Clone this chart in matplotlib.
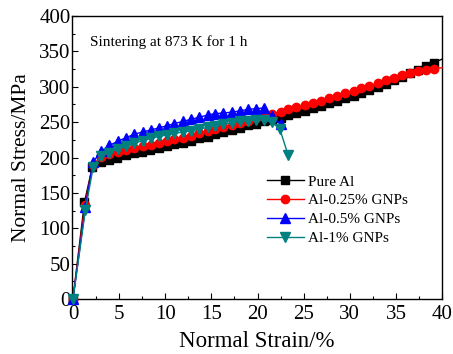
#!/usr/bin/env python3
"""Normal stress vs normal strain for sintered Al / Al-GNP composites."""

import matplotlib

matplotlib.use("Agg")
import matplotlib.pyplot as plt
from matplotlib.ticker import MultipleLocator

plt.rcParams["font.family"] = ["Liberation Serif", "DejaVu Serif"]
plt.rcParams["mathtext.fontset"] = "stix"

# strain (%) / stress (MPa)
strain_pure = [0, 1.25, 2.1, 3.0, 3.9, 4.8, 5.7, 6.6, 7.5, 8.4, 9.3, 10.2, 11.0, 11.9,
               12.8, 13.7, 14.6, 15.4, 16.3, 17.2, 18.1, 19.0, 19.8, 20.7, 21.6, 22.5,
               23.3, 24.2, 25.1, 26.0, 26.9, 27.7, 28.6, 29.5, 30.4, 31.2, 32.1, 33.0,
               33.9, 34.8, 35.6, 36.5, 37.4, 38.3, 39.1, 40.0]
stress_pure = [0, 137, 187, 194, 197, 200, 203, 206, 208, 211, 213, 216, 219, 221,
               223, 227, 229, 233, 236, 239, 242, 246, 248, 251, 253, 256,
               260, 263, 266, 270, 273, 277, 280, 284, 287, 291, 296, 300,
               304, 309, 314, 319, 324, 329, 334, 339]

strain_025 = [0, 1.3, 2.15, 3.05, 3.95, 4.85, 5.75, 6.65, 7.55, 8.45, 9.35, 10.2, 11.0,
              11.9, 12.8, 13.7, 14.6, 15.4, 16.3, 17.2, 18.1, 19.0, 19.8, 20.7, 21.6,
              22.5, 23.3, 24.2, 25.1, 26.0, 26.9, 27.7, 28.6, 29.5, 30.4, 31.2, 32.1,
              33.0, 33.9, 34.8, 35.6, 36.5, 37.4, 38.3, 39.1, 40.0]
stress_025 = [0, 133, 190, 201, 205, 208, 211, 214, 216, 218, 221, 223, 226,
              228, 231, 234, 237, 240, 243, 246, 249, 252, 256, 259, 261,
              265, 268, 271, 274, 277, 280, 284, 287, 291, 294, 298, 301,
              305, 309, 312, 316, 319, 322, 324, 325, 327]

strain_05 = [0, 1.35, 2.15, 3.05, 3.95, 4.85, 5.75, 6.65, 7.55, 8.45, 9.35, 10.2, 11.0,
             11.9, 12.8, 13.7, 14.6, 15.4, 16.3, 17.2, 18.1, 19.0, 19.8, 20.7, 21.6, 22.5]
stress_05 = [0, 130, 193, 209, 217, 223, 228, 233, 236, 239, 242, 245, 248,
             251, 254, 257, 260, 262, 263, 264, 266, 268, 269, 270, 258, 247]

strain_1 = [0, 1.35, 2.2, 3.05, 3.95, 4.85, 5.75, 6.65, 7.55, 8.45, 9.35, 10.2, 11.0,
            11.9, 12.8, 13.7, 14.6, 15.4, 16.3, 17.2, 18.1, 19.0, 19.8, 20.7, 21.6,
            22.4, 23.3]
stress_1 = [0, 126, 187, 202, 207, 212, 216, 220, 224, 227, 230, 232, 234,
            236, 238, 240, 243, 245, 247, 249, 251, 252, 253, 253, 250,
            241, 204]

fig = plt.figure(figsize=(4.53, 3.54), dpi=100)
ax = fig.add_axes([0.159, 0.155, 0.817, 0.8])

ax.plot(strain_pure, stress_pure, "-s", color="black", lw=1.0, ms=5.5,
        markevery=slice(0, -1), clip_on=False, label="Pure Al", zorder=3)
ax.plot(strain_025, stress_025, "-o", color="#ff0000", lw=1.0, ms=6,
        markevery=slice(0, -1), clip_on=False, label="Al-0.25% GNPs", zorder=3)
ax.plot(strain_05, stress_05, "-^", color="#0000ff", lw=1.0, ms=6.5,
        clip_on=False, label="Al-0.5% GNPs", zorder=3)
ax.plot(strain_1, stress_1, "-v", color="#008080", lw=1.0, ms=6.5,
        clip_on=False, label="Al-1% GNPs", zorder=3)

ax.set_xlim(-0.1, 40)
ax.set_ylim(0, 400)
ax.xaxis.set_major_locator(MultipleLocator(5))
ax.xaxis.set_minor_locator(MultipleLocator(2.5))
ax.yaxis.set_major_locator(MultipleLocator(50))
ax.yaxis.set_minor_locator(MultipleLocator(25))
ax.tick_params(which="both", direction="in", top=False, right=False, labelsize=15)
ax.tick_params(which="major", length=4, width=0.8)
ax.tick_params(axis="x", which="major", pad=4)
ax.tick_params(axis="y", which="major", pad=1)
ax.tick_params(which="minor", length=2.5, width=0.8)
for side in ax.spines.values():
    side.set_linewidth(1.0)

ax.set_xlabel("Normal Strain/%", fontsize=16.5, labelpad=5)
ax.set_ylabel("Normal Stress/MPa", fontsize=15.5, labelpad=6)

ax.text(0.049, 0.908, "Sintering at 873 K for 1 h", transform=ax.transAxes,
        fontsize=11, va="center", ha="left")

ax.legend(loc="upper left", bbox_to_anchor=(0.51, 0.46), frameon=False,
          fontsize=11, handlelength=2.4, handletextpad=0.3, labelspacing=0.33,
          borderaxespad=0)

fig.savefig("out.png", dpi=100)
